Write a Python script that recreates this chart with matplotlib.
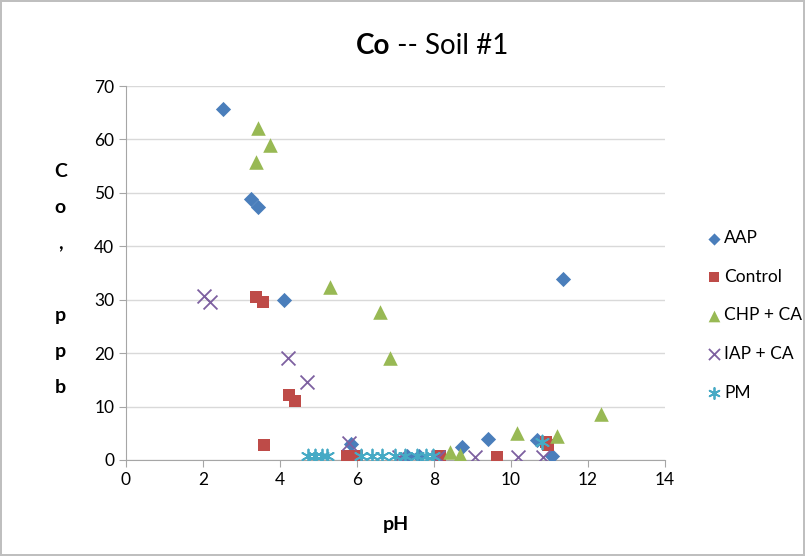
import matplotlib
matplotlib.use("Agg")
import matplotlib.pyplot as plt

plt.rcParams['font.family'] = ['Lato', 'DejaVu Sans']

aap_x = [2.52, 3.25, 3.43, 4.10, 5.85, 7.30, 7.60, 8.72, 9.40, 10.67, 11.07, 11.35]
aap_y = [65.7, 48.8, 47.3, 29.9, 3.0, 0.8, 0.8, 2.4, 3.9, 3.7, 0.8, 33.9]

ctl_x = [3.38, 3.56, 4.23, 4.39, 3.58, 5.74, 6.00, 8.16, 9.64, 10.90, 10.95]
ctl_y = [30.5, 29.6, 12.2, 11.0, 2.8, 0.7, 0.7, 0.7, 0.6, 3.4, 2.8]

chp_x = [3.43, 3.74, 3.38, 5.30, 6.60, 6.86, 8.42, 8.68, 10.16, 11.20, 12.34]
chp_y = [62.1, 59.0, 55.8, 32.4, 27.7, 19.1, 1.5, 0.9, 5.1, 4.5, 8.6]

iap_x = [2.03, 2.18, 4.20, 4.70, 5.80, 7.10, 8.10, 9.06, 10.18, 10.83]
iap_y = [30.7, 29.6, 19.1, 14.6, 3.2, 0.6, 0.6, 0.6, 0.6, 0.6]

pm_x = [4.72, 4.90, 5.10, 5.22, 6.10, 6.40, 6.65, 6.98, 7.25, 7.55, 7.80, 7.98, 10.80]
pm_y = [0.8, 0.8, 0.8, 0.8, 0.8, 0.8, 0.8, 0.8, 0.8, 0.8, 0.8, 0.8, 3.3]

fig = plt.figure(figsize=(8.05, 5.56), dpi=100)
fig.patch.set_edgecolor('#BFBFBF')
fig.patch.set_linewidth(1.5)
ax = fig.add_axes([0.1565, 0.1727, 0.6696, 0.6726])

ax.scatter(aap_x, aap_y, marker='D', s=60, color='#4A7EBB', label='AAP', zorder=3, linewidths=0)
ax.scatter(ctl_x, ctl_y, marker='s', s=85, color='#BE4B48', label='Control', zorder=3, linewidths=0)
ax.scatter(chp_x, chp_y, marker='^', s=110, color='#98B954', label='CHP + CA', zorder=3, linewidths=0)
ax.scatter(iap_x, iap_y, marker='x', s=100, color='#7D60A0', label='IAP + CA', zorder=3, linewidths=1.3)
ax.scatter(pm_x, pm_y, marker=(6, 2, 0), s=100, color='#46AAC5', label='PM', zorder=3, linewidths=1.3)

ax.set_xlim(0, 14)
ax.set_ylim(0, 70)
ax.set_xticks(range(0, 15, 2))
ax.set_yticks(range(0, 71, 10))
ax.grid(axis='y', color='#D9D9D9', linewidth=1)
ax.set_axisbelow(True)
for s in ['top', 'right']:
    ax.spines[s].set_visible(False)
for s in ['left', 'bottom']:
    ax.spines[s].set_color('#A6A6A6')
ax.tick_params(axis='both', colors='#A6A6A6', labelcolor='black', labelsize=12.5, length=5, direction='out')

fig.text(0.485, 0.918, 'Co', fontsize=20, fontweight='bold', ha='right', va='center')
fig.text(0.485, 0.918, ' -- Soil #1', fontsize=20, ha='left', va='center')

ax.set_xlabel('pH', fontsize=14, fontweight='bold', labelpad=20)
fig.text(0.075, 0.497, 'C\no\n,\n \np\np\nb', fontsize=14, fontweight='bold', ha='center', va='center', linespacing=2.36)

leg = ax.legend(loc='upper left', bbox_to_anchor=(1.045, 0.656), frameon=False, fontsize=12.5,
                handletextpad=0.1, labelspacing=1.3, handlelength=1.0, scatterpoints=1, markerscale=0.8)
fig.savefig('out.png', dpi=100)
